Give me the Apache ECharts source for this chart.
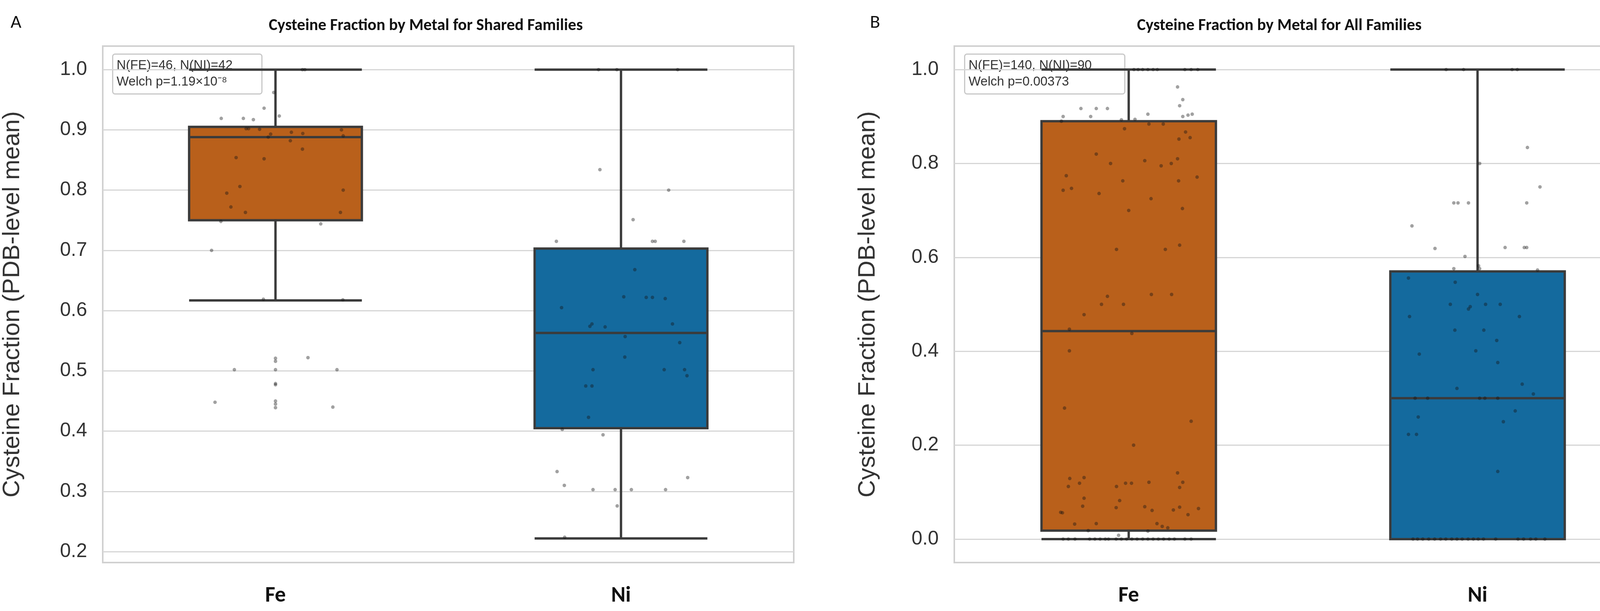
<!DOCTYPE html>
<html lang="en">
<head>
<meta charset="UTF-8"/>
<script src="https://cdn.jsdelivr.net/npm/echarts@6/dist/echarts.min.js"></script>
<style>html,body{margin:0;background:#fff}</style>
</head>
<body>
<div id="main" style="width:4233px;height:1564px;"></div>
<script type="text/javascript">
// categories and tick labels
var metals = ['Fe', 'Ni'];
var ticksA = [0.2, 0.3, 0.4, 0.5, 0.6, 0.7, 0.8, 0.9, 1.0];
var ticksB = [0.0, 0.2, 0.4, 0.6, 0.8, 1.0];

// box stats [low, q1, median, q3, high]
var boxA = [[0.617, 0.75, 0.888, 0.905, 1.0], [0.222, 0.405, 0.563, 0.703, 1.0]];
var boxB = [[0.0, 0.018, 0.443, 0.89, 1.0], [0.0, 0.0, 0.3, 0.57, 1.0]];

// strip points [jitter offset, value]
var ptsAFe = [[0.078,1.0],[0.085,1.0],[-0.005,0.962],[-0.033,0.936],[0.011,0.923],[-0.157,0.919],[-0.093,0.919],[-0.064,0.917],[-0.085,0.902],[-0.078,0.902],[-0.046,0.901],[-0.021,0.888],[-0.014,0.893],[0.046,0.896],[0.079,0.894],[0.191,0.9],[0.196,0.89],[0.043,0.882],[0.078,0.868],[-0.114,0.854],[-0.033,0.852],[-0.103,0.806],[-0.141,0.795],[0.196,0.8],[-0.129,0.772],[-0.087,0.763],[0.188,0.763],[-0.158,0.748],[0.131,0.744],[-0.185,0.7],[-0.035,0.619],[0.195,0.618],[0.094,0.522],[0,0.521],[0,0.516],[-0.119,0.502],[0,0.502],[0.178,0.502],[0,0.479],[0,0.477],[-0.175,0.448],[0,0.45],[0,0.445],[0,0.439],[0.166,0.44]];
var ptsANi = [[-0.065,1.0],[-0.012,1.0],[0.164,1.0],[-0.061,0.834],[0.138,0.8],[0.035,0.751],[-0.187,0.715],[0.091,0.715],[0.099,0.715],[0.182,0.715],[0.04,0.668],[-0.172,0.605],[0.008,0.623],[0.073,0.622],[0.091,0.622],[0.128,0.62],[-0.084,0.578],[-0.09,0.574],[-0.046,0.573],[0.149,0.578],[0.012,0.557],[0.17,0.547],[0.011,0.523],[-0.081,0.502],[0.125,0.502],[0.184,0.502],[0.191,0.492],[-0.102,0.475],[-0.084,0.475],[-0.094,0.423],[-0.17,0.403],[-0.052,0.394],[-0.185,0.333],[-0.164,0.31],[-0.081,0.303],[-0.017,0.303],[0.03,0.303],[0.129,0.303],[0.193,0.323],[-0.011,0.276],[-0.163,0.224]];
var ptsBFe = [[0.015,1],[0.027,1],[0.04,1],[0.055,1],[0.07,1],[0.082,1],[0.161,1],[0.179,1],[0.198,1],
  [0.14,0.963],[0.155,0.936],[0.146,0.923],[-0.137,0.917],[-0.093,0.917],[-0.061,0.917],[-0.109,0.9],[-0.188,0.9],[-0.193,0.89],[0.018,0.894],[0.055,0.905],[0.058,0.884],[0.099,0.884],[-0.021,0.893],[0.155,0.9],[0.17,0.903],[0.182,0.905],[0.163,0.867],[0.144,0.852],[0.176,0.855],[-0.012,0.874],[-0.093,0.82],[-0.052,0.8],[0.046,0.806],[0.093,0.795],[0.122,0.8],[0.14,0.81],[-0.179,0.774],[-0.188,0.743],[-0.164,0.747],[-0.017,0.763],[0.143,0.763],[0.196,0.771],[-0.085,0.736],[0.064,0.725],[0,0.7],[0.154,0.704],[-0.035,0.617],[0.105,0.617],[0.146,0.626],[-0.061,0.517],[-0.078,0.5],[-0.015,0.5],[0.065,0.521],[0.123,0.521],[-0.128,0.478],[-0.17,0.447],[0.009,0.438],[-0.17,0.401],[-0.184,0.279],[0.179,0.251],[0.014,0.2],[-0.169,0.129],[-0.128,0.131],[-0.141,0.119],[-0.173,0.112],[-0.035,0.112],[-0.009,0.119],[0.008,0.119],[0.058,0.121],[0.14,0.141],[0.155,0.121],[0.146,0.11],[-0.128,0.087],[-0.026,0.082],[-0.132,0.07],[-0.036,0.067],[0.046,0.069],[0.067,0.061],[0.128,0.062],[0.146,0.068],[0.2,0.065],[0.17,0.052],[-0.195,0.057],[-0.19,0.056],[-0.155,0.032],[-0.093,0.033],[0.081,0.033],[0.096,0.027],[0.112,0.024],[-0.116,0.018],[0.055,0.017],[-0.029,0.008],
  [-0.188,0],[-0.173,0],[-0.154,0],[-0.112,0],[-0.097,0],[-0.082,0],[-0.067,0],[-0.058,0],[-0.036,0],[-0.021,0],[-0.006,0],[0.009,0],[0.024,0],[0.04,0],[0.055,0],[0.07,0],[0.085,0],[0.1,0],[0.116,0],[0.131,0],[0.161,0],[0.179,0]];
var ptsBNi = [[-0.09,1],[-0.04,1],[0.099,1],[0.114,1],[0.143,0.834],[0.006,0.8],[0.179,0.75],[-0.068,0.716],[-0.056,0.716],[-0.026,0.716],[0.141,0.716],[-0.188,0.667],[-0.122,0.619],[0.079,0.621],[0.134,0.621],[0.141,0.621],[-0.036,0.602],[-0.068,0.576],[0.003,0.582],[0.006,0.576],[0.172,0.573],[-0.198,0.556],[-0.064,0.547],[0,0.521],[-0.078,0.5],[-0.026,0.49],[-0.021,0.495],[0.023,0.5],[0.065,0.5],[-0.195,0.474],[0.12,0.474],[-0.065,0.445],[0.018,0.445],[0.055,0.423],[-0.167,0.394],[-0.005,0.401],[0.058,0.376],[-0.059,0.321],[0.128,0.33],[0.16,0.309],[-0.179,0.3],[-0.143,0.3],[0.006,0.3],[0.021,0.3],[0.058,0.3],[0.108,0.273],[-0.17,0.26],[0.074,0.25],[-0.198,0.223],[-0.175,0.223],[0.058,0.144],
  [-0.185,0],[-0.172,0],[-0.157,0],[-0.14,0],[-0.123,0],[-0.106,0],[-0.091,0],[-0.074,0],[-0.059,0],[-0.044,0],[-0.027,0],[-0.012,0],[0.002,0],[0.017,0],[0.052,0],[0.116,0],[0.132,0],[0.152,0],[0.167,0],[0.193,0]];

var colors = ['#b9601b', '#146a9e'];
var edge = '#3b3b3b';
var font = '"Liberation Sans", Arial, sans-serif';

function strip(pts, idx) {
    return pts.map(function (p) { return [idx + p[0], p[1]]; });
}

function panel(i, ticks, min, max, box, fe, ni) {
    return {
        xCat: {
            gridIndex: i, type: 'category', data: metals,
            axisLine: {show: false}, axisTick: {show: false},
            axisLabel: {fontSize: 56, fontWeight: 'bold', color: '#111', margin: 58, fontFamily: 'Carlito, "Liberation Sans", sans-serif'}
        },
        xVal: {gridIndex: i, type: 'value', min: -0.5, max: 1.5, show: false},
        y: {
            gridIndex: i, type: 'value', min: min, max: max,
            name: 'Cysteine Fraction (PDB-level mean)', nameLocation: 'middle', nameGap: i === 0 ? 200 : 190,
            nameTextStyle: {fontSize: 62, color: '#333', fontFamily: font},
            axisLine: {show: false}, axisTick: {show: false}, splitLine: {show: false},
            axisLabel: {
                fontSize: 50, color: '#333', margin: 40, fontFamily: font,
                customValues: ticks,
                formatter: function (v) { return v.toFixed(1); }
            }
        },
        series: [
            {
                type: 'boxplot', xAxisIndex: i * 2, yAxisIndex: i, boxWidth: ['50%', '50%'],
                data: box.map(function (b, k) {
                    return {value: b, itemStyle: {color: colors[k], borderColor: edge, borderWidth: 6}};
                }),
                markLine: {
                    silent: true, symbol: 'none', z: 0, label: {show: false},
                    lineStyle: {color: '#d6d6d6', width: 3, type: 'solid'},
                    data: ticks.map(function (t) { return {yAxis: t}; })
                },
                z: 2
            },
            {
                type: 'scatter', xAxisIndex: i * 2 + 1, yAxisIndex: i, symbolSize: 9,
                itemStyle: {color: 'rgba(20,20,20,0.5)'}, data: strip(fe, 0).concat(strip(ni, 1)), z: 5
            }
        ]
    };
}

var pA = panel(0, ticksA, 0.182, 1.039, boxA, ptsAFe, ptsANi);
var pB = panel(1, ticksB, -0.05, 1.05, boxB, ptsBFe, ptsBNi);

var gridStyle = {show: true, borderColor: '#d0d0d0', borderWidth: 4, backgroundColor: '#fff'};
var titleFont = {fontSize: 42, fontWeight: 'bold', color: '#111', fontFamily: 'Carlito, "Liberation Sans", sans-serif'};

function noteBox(x, lines, w) {
    return {
        type: 'group', left: x, top: 137, z: 10,
        children: [
            {type: 'rect', shape: {x: 0, y: 0, width: w, height: 102, r: 6}, style: {fill: 'rgba(255,255,255,0.9)', stroke: '#c8c8c8', lineWidth: 3}},
            {type: 'text', left: 10, top: 8, style: {text: lines, fontSize: 33, lineHeight: 42, fill: '#333', fontFamily: font}}
        ]
    };
}

var myChart = echarts.init(document.getElementById('main'));
myChart.setOption({
    animation: false,
    title: [
        {text: 'Cysteine Fraction by Metal for Shared Families', left: 1085, top: 40, textAlign: 'center', textStyle: titleFont},
        {text: 'Cysteine Fraction by Metal for All Families', left: 3270, top: 40, textAlign: 'center', textStyle: titleFont},
        {text: 'A', left: 22, top: 30, textStyle: {fontSize: 48, fontWeight: 'normal', color: '#111', fontFamily: 'Carlito, sans-serif'}},
        {text: 'B', left: 2222, top: 30, textStyle: {fontSize: 48, fontWeight: 'normal', color: '#111', fontFamily: 'Carlito, sans-serif'}}
    ],
    grid: [
        Object.assign({left: 260, top: 118, width: 1772, height: 1322}, gridStyle),
        Object.assign({left: 2443, top: 118, width: 1786, height: 1322}, gridStyle)
    ],
    xAxis: [pA.xCat, pA.xVal, pB.xCat, pB.xVal],
    yAxis: [pA.y, pB.y],
    series: pA.series.concat(pB.series),
    graphic: [
        noteBox(287, 'N(FE)=46, N(NI)=42\nWelch p=1.19×10⁻⁸', 382),
        noteBox(2468, 'N(FE)=140, N(NI)=90\nWelch p=0.00373', 410)
    ]
});
</script>
</body>
</html>
